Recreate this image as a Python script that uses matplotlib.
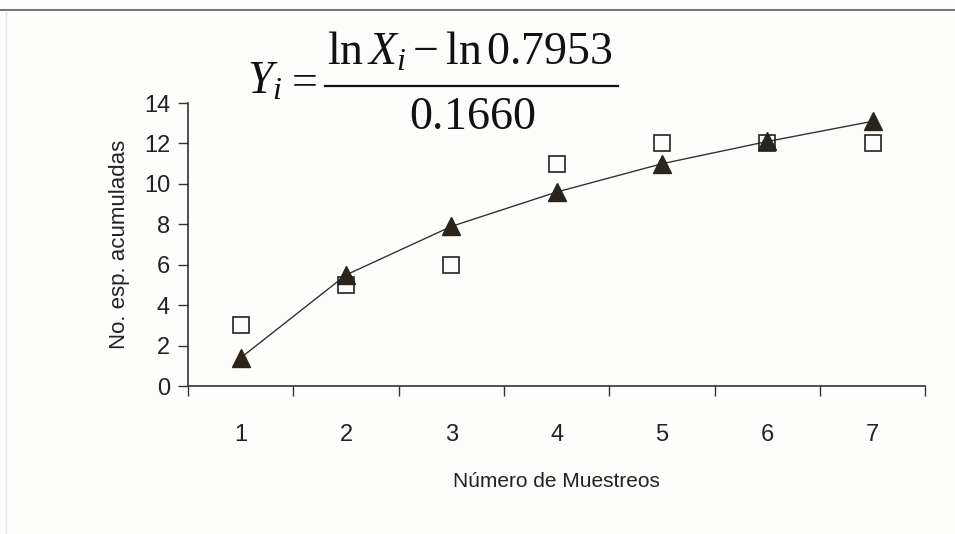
import matplotlib.pyplot as plt
from matplotlib.lines import Line2D

# muestreos y especies acumuladas
muestreos = [1, 2, 3, 4, 5, 6, 7]
observadas = [3, 5, 6, 11, 12, 12, 12]
estimadas = [1.4, 5.5, 7.9, 9.6, 11.0, 12.1, 13.1]
y_ticks = [0, 2, 4, 6, 8, 10, 12, 14]

plt.rcParams["font.family"] = ["Liberation Sans", "DejaVu Sans"]
plt.rcParams["mathtext.fontset"] = "custom"
plt.rcParams["mathtext.rm"] = "Liberation Serif"
plt.rcParams["mathtext.it"] = "Liberation Serif:italic"

W, H = 955, 534
fig = plt.figure(figsize=(9.55, 5.34), dpi=100, facecolor="#fdfdfc")
ax = fig.add_axes([0.197, 0.277, 0.772, 0.53])
ax.set_facecolor("#fdfdfc")

ax.plot(muestreos, estimadas, color="#333333", lw=1.0, marker="^", markersize=13,
        markerfacecolor="#2b241c", markeredgecolor="#2b241c", zorder=3)
ax.plot(muestreos, observadas, ls="none", marker="s", markersize=11,
        markerfacecolor="none", markeredgecolor="#222222", markeredgewidth=1.2, zorder=4)

ax.set_xlim(0.5, 7.5)
ax.set_ylim(0, 14)
ax.set_xticks([i + 0.5 for i in range(0, 8)])
ax.set_xticklabels([])
ax.set_xticks(muestreos, minor=True)
ax.set_xticklabels([str(m) for m in muestreos], minor=True, fontsize=17, color="#222222")
ax.tick_params(axis="x", which="minor", length=0, pad=27)
ax.tick_params(axis="x", which="major", length=7, width=1, direction="out", color="#333333")
ax.set_yticks(y_ticks)
ax.set_yticklabels([str(v) for v in y_ticks], fontsize=17, color="#222222")
ax.tick_params(axis="y", length=7, width=1, direction="out", color="#333333", pad=6)

for s in ["top", "right"]:
    ax.spines[s].set_visible(False)
for s in ["left", "bottom"]:
    ax.spines[s].set_color("#333333")
    ax.spines[s].set_linewidth(1.2)

ax.set_xlabel("Número de Muestreos", fontsize=15, color="#222222", labelpad=19)
ax.set_ylabel("No. esp. acumuladas", fontsize=16, color="#222222", labelpad=10)

# ecuacion del modelo, armada por partes
def px(x, y):
    return x / W, 1 - y / H

fig.text(*px(247, 82), r"$Y_i$", fontsize=33, ha="left", va="center", color="#111111")
fig.text(*px(305, 84), "=", fontsize=33, family="Liberation Serif", ha="center", va="center",
         color="#111111")
fig.text(*px(470, 53), r"$\ln X_i - \ln 0.7953$", fontsize=33, ha="center", va="center",
         color="#111111")
fig.text(*px(472, 117), r"$0.1660$", fontsize=33, ha="center", va="center", color="#111111")
fig.add_artist(Line2D([325 / W, 618 / W], [1 - 86 / H, 1 - 86 / H], transform=fig.transFigure,
                      color="#111111", lw=1.6))

# borde del escaneo
fig.add_artist(Line2D([0, 1], [0.981, 0.981], transform=fig.transFigure, color="#777777", lw=1.5))
fig.add_artist(Line2D([0.006, 0.006], [0, 0.98], transform=fig.transFigure, color="#e6e6e6", lw=1))

fig.savefig("out.png", dpi=100, facecolor=fig.get_facecolor())
